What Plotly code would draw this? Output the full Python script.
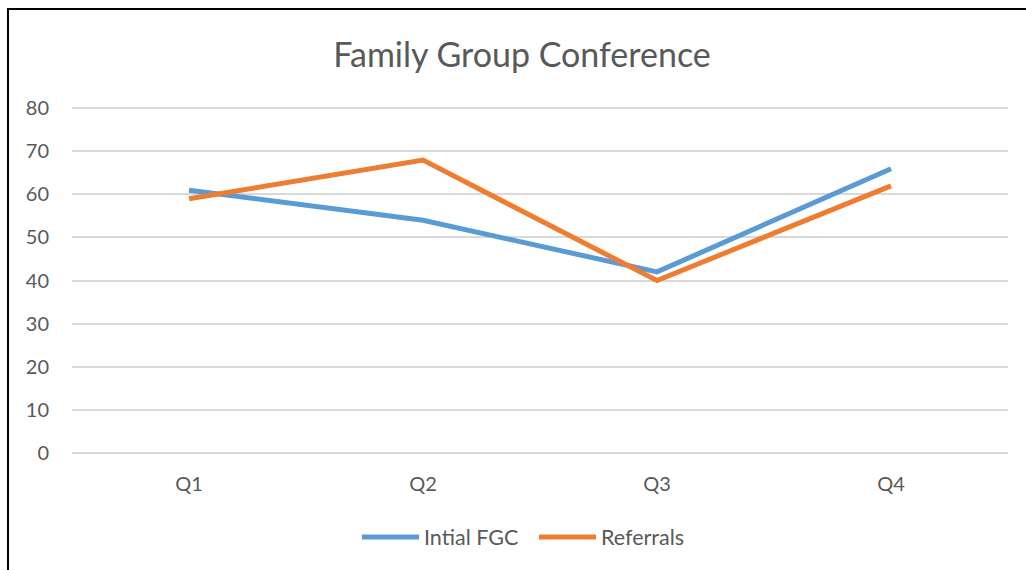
import plotly.graph_objects as go

categories = ["Q1", "Q2", "Q3", "Q4"]
initial_fgc = [61, 54, 42, 66]
referrals = [59, 68, 40, 62]
y_ticks = [0, 10, 20, 30, 40, 50, 60, 70, 80]

W, H = 1026, 570
L, R = 72, 18
# 0 at pixel 453, 80 at pixel 108 -> 4.3125 px per unit; pad range by 1.5 units
pad = 1.5
ppu = 345 / 80
T = round(108 - pad * ppu)
B = round(H - (453 + pad * ppu))
pw, ph = W - L - R, H - T - B

fig = go.Figure()
fig.add_trace(go.Scatter(x=categories, y=initial_fgc, mode="lines", name="Intial FGC",
                         line=dict(color="#5B9BD5", width=5)))
fig.add_trace(go.Scatter(x=categories, y=referrals, mode="lines", name="Referrals",
                         line=dict(color="#ED7D31", width=5)))

font_family = "Lato, Open Sans, sans-serif"
fig.update_layout(
    width=W, height=H,
    margin=dict(l=L, r=R, t=T, b=B),
    paper_bgcolor="white", plot_bgcolor="white",
    title=dict(text="Family Group Conference", x=522 / W,
               xanchor="center", y=1 - 55 / H, yanchor="middle",
               font=dict(family=font_family, size=34, color="#595959")),
    xaxis=dict(type="category", range=[-0.5, 3.5], showgrid=False, zeroline=False,
               showline=False, ticks="", ticklabelstandoff=11,
               tickfont=dict(family=font_family, size=20, color="#595959")),
    yaxis=dict(range=[-pad, 80 + pad], tickvals=y_ticks, showgrid=True, gridcolor="#D9D9D9",
               gridwidth=1.5, zeroline=False, showline=False, ticks="", ticklabelstandoff=22,
               tickfont=dict(family=font_family, size=20, color="#595959")),
    legend=dict(orientation="h", x=357 / W, xanchor="left", xref="container",
                y=(H - 537) / H, yanchor="middle", yref="container",
                font=dict(family=font_family, size=21.5, color="#595959"),
                itemwidth=57, entrywidth=105, entrywidthmode="pixels",
                traceorder="normal"),
    showlegend=True,
)
# outer chart border
fig.add_shape(type="rect", xref="paper", yref="paper",
              x0=(8 - L) / pw, x1=(W + 10 - L) / pw,
              y0=-(H + 10 - (T + ph)) / ph, y1=(T + ph - 9) / ph,
              line=dict(color="black", width=2), fillcolor="rgba(0,0,0,0)", layer="above")

fig.write_html("out.html", config={"displayModeBar": False},
               post_script="document.body.style.margin='0';")
